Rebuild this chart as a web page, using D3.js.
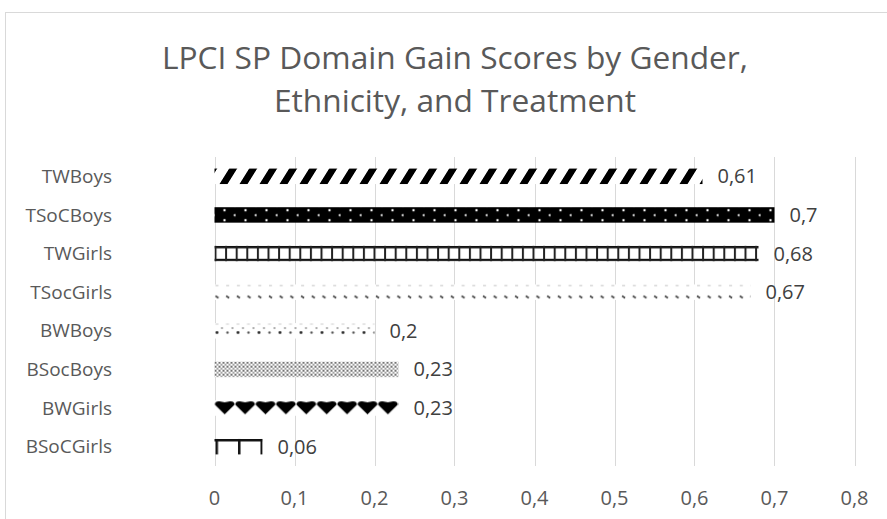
<!DOCTYPE html>
<html>
<meta charset="utf-8">
<head>
  <script src="https://d3js.org/d3.v7.min.js"></script>
  <style>
    body { margin: 0; background: #fff; }
    text { font-family: "Open Sans", sans-serif; }
    .grid line { stroke: #d9d9d9; stroke-width: 1px; }
  </style>
</head>
<body>
<div id="chart"></div>
<script type="text/javascript">
  "use strict"

  // data, top to bottom as in the picture
  var categories = ["TWBoys", "TSoCBoys", "TWGirls", "TSocGirls", "BWBoys", "BSocBoys", "BWGirls", "BSoCGirls"];
  var values = [0.61, 0.7, 0.68, 0.67, 0.2, 0.23, 0.23, 0.06];
  var patterns = ["diag", "dotsInv", "grid", "dashes", "sparseDots", "denseDots", "diamonds", "comb"];
  var ticks = [0, 0.1, 0.2, 0.3, 0.4, 0.5, 0.6, 0.7, 0.8];

  var width = 887, height = 519;

  var svg = d3.select("#chart")
      .append("svg")
      .attr("width", width)
      .attr("height", height);

  // chart frame
  svg.append("rect")
      .attr("x", 5.5).attr("y", 12.5)
      .attr("width", 920).attr("height", 540)
      .attr("fill", "#fff")
      .attr("stroke", "#d9d9d9");

  svg.append("text")
      .attr("x", 455).attr("y", 69)
      .attr("text-anchor", "middle")
      .attr("font-size", 31.7)
      .attr("fill", "#595959")
      .text("LPCI SP Domain Gain Scores by Gender,");
  svg.append("text")
      .attr("x", 455).attr("y", 112)
      .attr("text-anchor", "middle")
      .attr("font-size", 31.7)
      .attr("fill", "#595959")
      .text("Ethnicity, and Treatment");

  var x = d3.scaleLinear().domain([0, 0.8]).range([214.5, 854.5]);
  var y = d3.scaleBand().domain(categories).range([157, 466]).paddingInner(0.6).paddingOuter(0.3);

  // gridlines
  svg.append("g")
      .attr("class", "grid")
    .selectAll("line")
      .data(ticks)
    .enter().append("line")
      .attr("x1", function(d) { return Math.round(x(d)) + 0.5; })
      .attr("x2", function(d) { return Math.round(x(d)) + 0.5; })
      .attr("y1", 157)
      .attr("y2", 466);

  // tick labels
  svg.append("g")
    .selectAll("text")
      .data(ticks)
    .enter().append("text")
      .attr("x", function(d) { return x(d); })
      .attr("y", 505)
      .attr("text-anchor", "middle")
      .attr("font-size", 20)
      .attr("fill", "#595959")
      .text(function(d) { return String(d).replace(".", ","); });

  // category labels
  svg.append("g")
    .selectAll("text")
      .data(categories)
    .enter().append("text")
      .attr("x", 112)
      .attr("y", function(d) { return y(d) + y.bandwidth() / 2; })
      .attr("dy", "0.35em")
      .attr("text-anchor", "end")
      .attr("font-size", 19)
      .attr("fill", "#595959")
      .text(function(d) { return d; });

  // fill patterns, one per bar, anchored on the bar's top edge
  var defs = svg.append("defs");
  var bh = y.bandwidth();

  function makePattern(kind, top) {
    var p = defs.append("pattern")
        .attr("id", "p-" + kind)
        .attr("patternUnits", "userSpaceOnUse")
        .attr("x", x(0)).attr("y", top);
    if (kind === "diag") {
      p.attr("width", 20).attr("height", 40).attr("patternTransform", "skewX(-32)");
      p.append("rect").attr("width", 20).attr("height", 40).attr("fill", "#fff");
      p.append("rect").attr("x", 0).attr("width", 8).attr("height", 40).attr("fill", "#000");
    } else if (kind === "dotsInv") {
      p.attr("width", 21).attr("height", 10);
      p.append("rect").attr("width", 21).attr("height", 10).attr("fill", "#000");
      p.append("circle").attr("cx", 10).attr("cy", 3).attr("r", 1.2).attr("fill", "#fff");
      p.append("circle").attr("cx", 20.5).attr("cy", 8).attr("r", 1.2).attr("fill", "#fff");
    } else if (kind === "grid") {
      p.attr("width", 10.6).attr("height", bh - 2.5);
      p.append("rect").attr("width", 10.6).attr("height", bh).attr("fill", "#fff");
      p.append("rect").attr("width", 10.6).attr("height", 2.5).attr("fill", "#111");
      p.append("rect").attr("width", 2).attr("height", bh).attr("fill", "#222");
    } else if (kind === "dashes") {
      p.attr("width", 10.7).attr("height", 20);
      p.append("rect").attr("width", 10.7).attr("height", 20).attr("fill", "#fff");
      p.append("rect").attr("x", 1).attr("y", 0.5).attr("width", 3).attr("height", 1).attr("fill", "#bbb");
      p.append("path").attr("d", "M1,11.5 L4,13.5").attr("stroke", "#444").attr("stroke-width", 1.6);
    } else if (kind === "sparseDots") {
      p.attr("width", 21).attr("height", 20);
      p.append("rect").attr("width", 21).attr("height", 20).attr("fill", "#fff");
      p.append("rect").attr("x", 1).attr("y", 0.5).attr("width", 3).attr("height", 1).attr("fill", "#ccc");
      p.append("rect").attr("x", 11.5).attr("y", 0.5).attr("width", 3).attr("height", 1).attr("fill", "#ccc");
      p.append("circle").attr("cx", 2.5).attr("cy", 9.5).attr("r", 1.4).attr("fill", "#222");
      p.append("circle").attr("cx", 13).attr("cy", 9.5).attr("r", 1.2).attr("fill", "#555");
      p.append("circle").attr("cx", 7.5).attr("cy", 5).attr("r", 0.9).attr("fill", "#888");
      p.append("circle").attr("cx", 18).attr("cy", 5).attr("r", 0.9).attr("fill", "#888");
    } else if (kind === "denseDots") {
      p.attr("width", 4).attr("height", 4);
      p.append("rect").attr("width", 4).attr("height", 4).attr("fill", "#fff");
      p.append("circle").attr("cx", 1).attr("cy", 1).attr("r", 1).attr("fill", "#444");
      p.append("circle").attr("cx", 3).attr("cy", 3).attr("r", 0.9).attr("fill", "#777");
    } else if (kind === "diamonds") {
      p.attr("width", 20.4).attr("height", 40);
      p.append("rect").attr("width", 20.4).attr("height", 40).attr("fill", "#fff");
      p.append("path")
          .attr("d", "M0.5,3 Q1.5,0.5 5,1 L10.2,2 L15.4,1 Q18.9,0.5 19.9,3 L19.9,4.5 L10.2,14 L0.5,4.5 Z")
          .attr("fill", "#000");
    } else if (kind === "comb") {
      p.attr("width", 22.5).attr("height", 40);
      p.append("rect").attr("width", 22.5).attr("height", 40).attr("fill", "#fff");
      p.append("rect").attr("width", 22.5).attr("height", 2.5).attr("fill", "#111");
      p.append("rect").attr("x", 1).attr("width", 2.5).attr("height", 40).attr("fill", "#111");
    }
  }

  categories.forEach(function(c, i) { makePattern(patterns[i], y(c)); });

  // bars
  svg.append("g")
    .selectAll("rect")
      .data(values)
    .enter().append("rect")
      .attr("x", x(0))
      .attr("y", function(d, i) { return y(categories[i]); })
      .attr("width", function(d) { return x(d) - x(0); })
      .attr("height", bh)
      .attr("fill", function(d, i) { return "url(#p-" + patterns[i] + ")"; });

  // data labels
  svg.append("g")
    .selectAll("text")
      .data(values)
    .enter().append("text")
      .attr("x", function(d) { return x(d) + 15; })
      .attr("y", function(d, i) { return y(categories[i]) + bh / 2; })
      .attr("dy", "0.35em")
      .attr("font-size", 20)
      .attr("fill", "#404040")
      .text(function(d) { return String(d).replace(".", ","); });
</script>
</body>
</html>
